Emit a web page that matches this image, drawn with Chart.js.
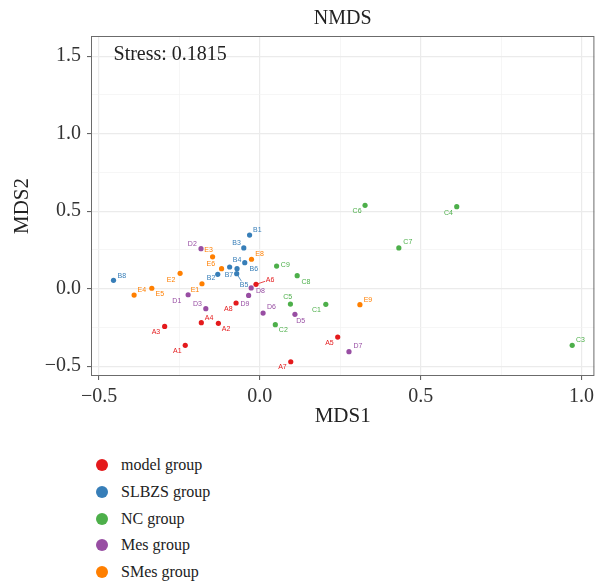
<!DOCTYPE html>
<html>
<head>
<meta charset="utf-8">
<title>NMDS</title>
<script src="https://cdn.jsdelivr.net/npm/chart.js@4.4.1/dist/chart.umd.min.js"></script>
<style>
  html, body { margin: 0; padding: 0; background: #fff; }
  #plot { position: relative; width: 597px; height: 440px; }
  #legend {
    position: absolute; left: 96px; top: 452px;
    font-family: "Liberation Serif", "DejaVu Serif", serif;
    font-size: 16px; color: #222;
  }
  .item { display: flex; align-items: center; height: 26.7px; }
  .dot { width: 12px; height: 12px; border-radius: 50%; margin-right: 13px; }
</style>
</head>
<body>
<div id="plot"><canvas id="nmds"></canvas></div>
<div id="legend"></div>
<script>
// group names and sample coordinates
const groupNames = ["model group", "SLBZS group", "NC group", "Mes group", "SMes group"];
const groupColors = ["#E41A1C", "#377EB8", "#4DAF4A", "#984EA3", "#FF7F00"];

const modelNames = ["A1", "A2", "A3", "A4", "A5", "A6", "A7", "A8"];
const modelX = [-0.232, -0.129, -0.296, -0.182, 0.242, -0.012, 0.096, -0.074];
const modelY = [-0.365, -0.223, -0.243, -0.219, -0.312, 0.028, -0.471, -0.092];

const slbzsNames = ["B1", "B2", "B3", "B4", "B5", "B6", "B7", "B8"];
const slbzsX = [-0.032, -0.131, -0.050, -0.071, -0.072, -0.047, -0.094, -0.455];
const slbzsY = [0.346, 0.093, 0.263, 0.129, 0.097, 0.168, 0.140, 0.054];

const ncNames = ["C1", "C2", "C3", "C4", "C5", "C6", "C7", "C8", "C9"];
const ncX = [0.205, 0.048, 0.971, 0.612, 0.095, 0.327, 0.432, 0.116, 0.052];
const ncY = [-0.101, -0.232, -0.365, 0.529, -0.099, 0.538, 0.263, 0.084, 0.146];

const mesNames = ["D1", "D2", "D3", "D5", "D6", "D7", "D8", "D9"];
const mesX = [-0.223, -0.183, -0.168, 0.109, 0.010, 0.277, -0.027, -0.035];
const mesY = [-0.039, 0.258, -0.129, -0.165, -0.157, -0.406, 0.005, -0.043];

const smesNames = ["E1", "E2", "E3", "E4", "E5", "E6", "E8", "E9"];
const smesX = [-0.180, -0.248, -0.147, -0.391, -0.336, -0.119, -0.026, 0.311];
const smesY = [0.032, 0.099, 0.206, -0.041, 0.003, 0.129, 0.190, -0.103];

const xTicks = [-0.5, -0.25, 0, 0.25, 0.5, 0.75, 1.0];
const yTicks = [-0.5, -0.25, 0, 0.25, 0.5, 0.75, 1.0, 1.25, 1.5];

const stressText = "Stress: 0.1815";

// label placement (px from the point), like ggrepel put them
const labelOffsets = {
  A1: [-8, 5.7], A2: [7.7, 5.7], A3: [-8.7, 6], A4: [7.7, -5], A5: [-8.3, 5.7],
  A6: [14, -4.7, true], A7: [-8.3, 5.7], A8: [-7.7, 5.7],
  B1: [7.7, -5], B2: [-6.7, 4], B3: [-7.3, -5.3], B4: [0, -8.3], B5: [7.3, 11.7, true],
  B6: [9, 6], B7: [-0.7, 8.3], B8: [8.3, -4.7],
  C1: [-9.3, 6], C2: [8, 5.3], C3: [8.3, -5.3], C4: [-8.3, 6], C5: [-2.7, -6.7],
  C6: [-8, 6], C7: [9, -5.7], C8: [8.7, 6], C9: [8.7, -1.3],
  D1: [-11.3, 6.3], D2: [-8.7, -5], D3: [-8.3, -5], D5: [5.7, 6.7], D6: [8.3, -5.7],
  D7: [9, -6], D8: [9.3, 3], D9: [-3.7, 9],
  E1: [-7, 6], E2: [-9, 6.3], E3: [-4, -6.3], E4: [7.7, -5.3], E5: [8, 5.7],
  E6: [-10.7, -4.3], E8: [8, -5], E9: [8, -5],
};

const SERIF = '"Liberation Serif", "DejaVu Serif", serif';
const isMajor = (v) => Math.abs(v * 2 - Math.round(v * 2)) < 1e-6;
const fmt = (v) => (isMajor(v) ? v.toFixed(1).replace("-", "\u2212") : "");

function makeSet(i, names, xs, ys) {
  return {
    label: groupNames[i],
    pointNames: names,
    data: xs.map((x, k) => ({ x, y: ys[k] })),
    backgroundColor: groupColors[i],
    borderWidth: 0,
    pointRadius: 2.6,
    pointHoverRadius: 2.6,
  };
}

const pointLabels = {
  id: "pointLabels",
  afterDatasetsDraw(chart) {
    const ctx = chart.ctx;
    ctx.save();
    ctx.font = '7px "Liberation Sans", Arial, sans-serif';
    ctx.textAlign = "center";
    ctx.textBaseline = "middle";
    chart.data.datasets.forEach((ds, di) => {
      chart.getDatasetMeta(di).data.forEach((pt, i) => {
        const name = ds.pointNames[i];
        const off = labelOffsets[name] || [7, -5];
        ctx.fillStyle = ds.backgroundColor;
        ctx.strokeStyle = ds.backgroundColor;
        if (off[2]) {
          ctx.lineWidth = 0.8;
          ctx.beginPath();
          ctx.moveTo(pt.x, pt.y);
          ctx.lineTo(pt.x + off[0] * 0.65, pt.y + off[1] * 0.65);
          ctx.stroke();
        }
        ctx.fillText(name, pt.x + off[0], pt.y + off[1]);
      });
    });
    ctx.restore();
  },
};

const panelExtras = {
  id: "panelExtras",
  beforeDatasetsDraw(chart) {
    const { ctx, chartArea: a, scales } = chart;
    ctx.save();
    ctx.strokeStyle = "#6b6b6b";
    ctx.lineWidth = 1;
    ctx.strokeRect(a.left + 0.5, a.top + 0.5, a.right - a.left - 1, a.bottom - a.top - 1);
    ctx.font = "20px " + SERIF;
    ctx.fillStyle = "#222";
    ctx.textBaseline = "middle";
    ctx.fillText(stressText, scales.x.getPixelForValue(-0.455), scales.y.getPixelForValue(1.5) - 1);
    ctx.restore();
  },
};

const gridOpts = {
  color: (c) => (c.tick && isMajor(c.tick.value) ? "#ebebeb" : "#f2f2f2"),
  lineWidth: (c) => (c.tick && isMajor(c.tick.value) ? 1.2 : 0.7),
  tickColor: (c) => (c.tick && isMajor(c.tick.value) ? "#555" : "rgba(0,0,0,0)"),
  tickLength: 4,
  tickWidth: 1,
};

const chart = new Chart(document.getElementById("nmds"), {
  type: "scatter",
  data: {
    datasets: [
      makeSet(0, modelNames, modelX, modelY),
      makeSet(1, slbzsNames, slbzsX, slbzsY),
      makeSet(2, ncNames, ncX, ncY),
      makeSet(3, mesNames, mesX, mesY),
      makeSet(4, smesNames, smesX, smesY),
    ],
  },
  options: {
    responsive: true,
    maintainAspectRatio: false,
    animation: false,
    layout: { padding: { left: 0, right: 2, top: 0, bottom: 0 } },
    plugins: {
      legend: { display: false },
      tooltip: { enabled: false },
      title: {
        display: true,
        text: "NMDS",
        fullSize: false,
        color: "#222",
        font: { family: SERIF, size: 20, weight: "normal" },
        padding: { top: 7, bottom: 5 },
      },
    },
    scales: {
      x: {
        type: "linear",
        min: -0.525,
        max: 1.04,
        afterBuildTicks: (s) => { s.ticks = xTicks.map((v) => ({ value: v })); },
        afterFit: (s) => {
          s.height = 64;
          s.paddingLeft = 0;
          s.paddingRight = 0;
        },
        grid: gridOpts,
        border: { display: false },
        ticks: {
          autoSkip: false, maxRotation: 0, padding: 5,
          color: "#333", font: { family: SERIF, size: 20 },
          callback: fmt,
        },
        title: {
          display: true, text: "MDS1", color: "#222",
          font: { family: SERIF, size: 21 },
          padding: { top: 0, bottom: 11 },
        },
      },
      y: {
        type: "linear",
        min: -0.563,
        max: 1.63,
        afterBuildTicks: (s) => { s.ticks = yTicks.map((v) => ({ value: v })); },
        afterFit: (s) => {
          s.width = 91;
          s.paddingTop = 0;
          s.paddingBottom = 0;
        },
        grid: gridOpts,
        border: { display: false },
        ticks: {
          autoSkip: false, padding: 6,
          color: "#333", font: { family: SERIF, size: 20 },
          callback: fmt,
        },
        title: {
          display: true, text: "MDS2", color: "#222",
          font: { family: SERIF, size: 21 },
          padding: { top: 10, bottom: 0 },
        },
      },
    },
  },
  plugins: [panelExtras, pointLabels],
});

// vertical legend under the plot, built from the chart's own legend items
const legendEl = document.getElementById("legend");
chart.options.plugins.legend.labels.generateLabels(chart).forEach((item) => {
  const row = document.createElement("div");
  row.className = "item";
  const dot = document.createElement("span");
  dot.className = "dot";
  dot.style.background = item.fillStyle;
  const txt = document.createElement("span");
  txt.textContent = item.text;
  row.append(dot, txt);
  legendEl.appendChild(row);
});
</script>
</body>
</html>
